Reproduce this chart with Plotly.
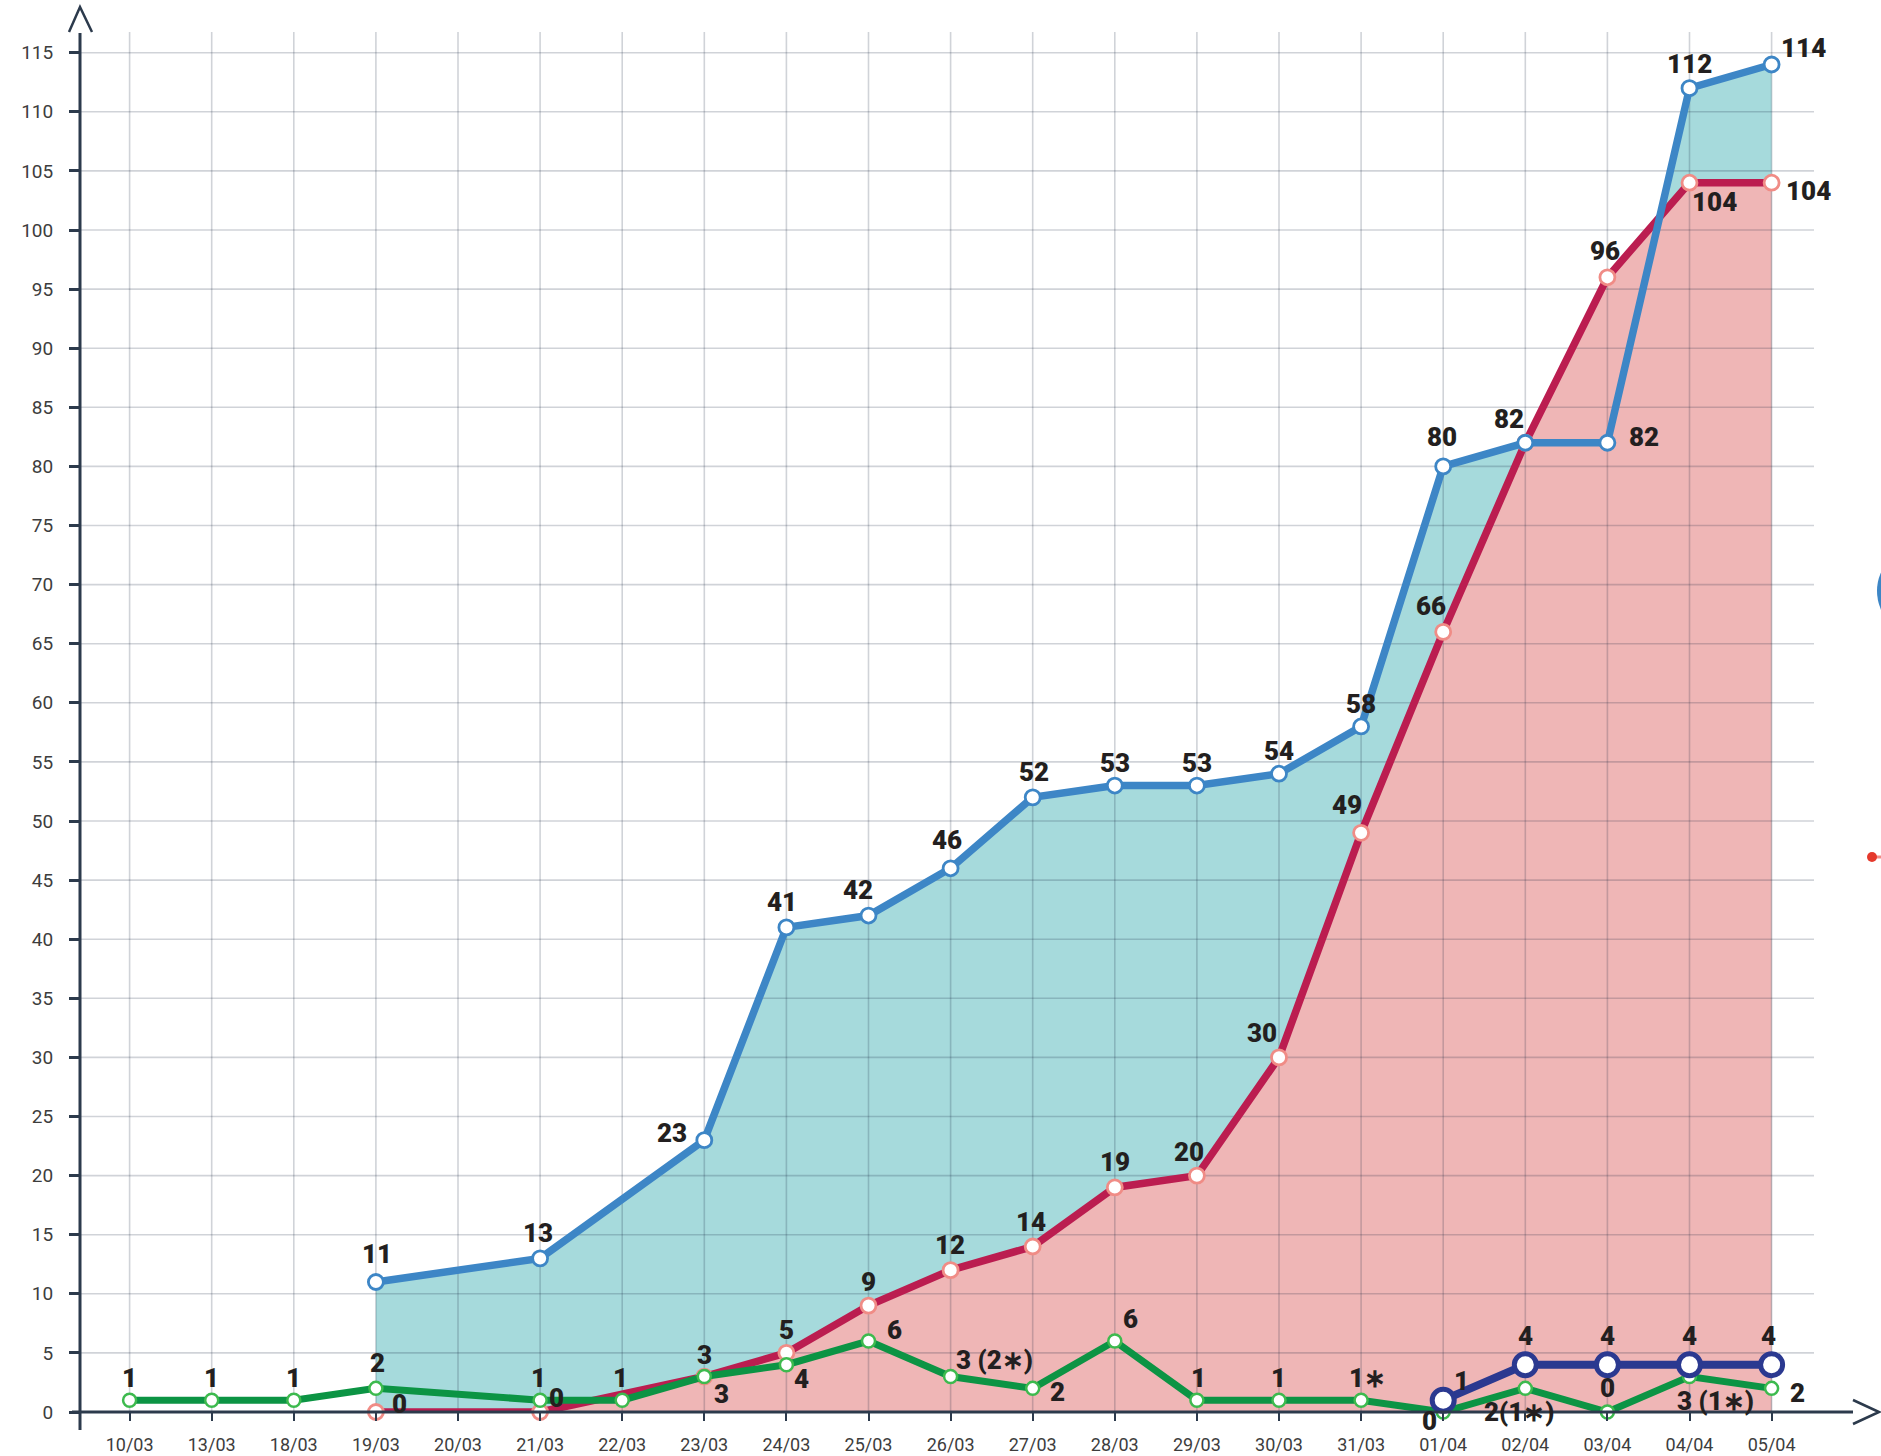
import plotly.graph_objects as go

# ---------------- data ----------------
DATES = ["10/03", "13/03", "18/03", "19/03", "20/03", "21/03", "22/03", "23/03", "24/03",
         "25/03", "26/03", "27/03", "28/03", "29/03", "30/03", "31/03", "01/04", "02/04",
         "03/04", "04/04", "05/04"]
Y_TICKS = [0, 5, 10, 15, 20, 25, 30, 35, 40, 45, 50, 55, 60, 65, 70, 75, 80, 85, 90, 95,
           100, 105, 110, 115]

BLUE_DATES = ["19/03", "21/03", "23/03", "24/03", "25/03", "26/03", "27/03", "28/03", "29/03",
              "30/03", "31/03", "01/04", "02/04", "03/04", "04/04", "05/04"]
BLUE_VALUES = [11, 13, 23, 41, 42, 46, 52, 53, 53, 54, 58, 80, 82, 82, 112, 114]
BLUE_LABELS = ["11", "13", "23", "41", "42", "46", "52", "53", "53", "54", "58", "80", "82",
               "82", "112", "114"]

RED_DATES = ["19/03", "21/03", "23/03", "24/03", "25/03", "26/03", "27/03", "28/03", "29/03",
             "30/03", "31/03", "01/04", "02/04", "03/04", "04/04", "05/04"]
RED_VALUES = [0, 0, 3, 5, 9, 12, 14, 19, 20, 30, 49, 66, 82, 96, 104, 104]
RED_LABELS = ["0", "0", "3", "5", "9", "12", "14", "19", "20", "30", "49", "66", "", "96",
              "104", "104"]

GREEN_DATES = ["10/03", "13/03", "18/03", "19/03", "21/03", "22/03", "23/03", "24/03", "25/03",
               "26/03", "27/03", "28/03", "29/03", "30/03", "31/03", "01/04", "02/04", "03/04",
               "04/04", "05/04"]
GREEN_VALUES = [1, 1, 1, 2, 1, 1, 3, 4, 6, 3, 2, 6, 1, 1, 1, 0, 2, 0, 3, 2]
GREEN_LABELS = ["1", "1", "1", "2", "1", "1", "3", "4", "6", "3 (2∗)", "2", "6", "1", "1",
                "1∗", "0", "2(1∗)", "0", "3 (1∗)", "2"]

NAVY_DATES = ["01/04", "02/04", "03/04", "04/04", "05/04"]
NAVY_VALUES = [1, 4, 4, 4, 4]
NAVY_LABELS = ["1", "4", "4", "4", "4"]

# ---------------- styles / layout geometry ----------------
W, H = 1881, 1456
ML, MR, MT, MB = 80, 2, 7, 44
PW, PH = W - ML - MR, H - MT - MB
X0_PX, DX_PX = 129.6, 82.1          # pixel of first category, spacing
PX_PER_UNIT = 11.82
X_RANGE = [(ML - X0_PX) / DX_PX, (W - MR - X0_PX) / DX_PX]
Y_RANGE = [0, PH / PX_PER_UNIT]
GRID_RIGHT = (1814 - X0_PX) / DX_PX
GRID_TOP = 116.75

AXIS_COLOR = "#2c3a4c"
GRID_COLOR = "rgba(20,35,60,0.20)"
BLUE, RED, GREEN, NAVY = "#3d86c6", "#bb1d50", "#0c9444", "#2b3990"
RED_MK, GREEN_MK = "#f08c86", "#3dba4e"
TEAL_FILL, PINK_FILL = "#a6dadc", "#efb6b6"
LABEL_FONT = dict(family="Roboto", size=26, color="#231f20", weight=900)

# label offsets in px (dx right, dy down)
BLUE_SHIFT = [(1, -28), (-2, -25), (-32, -7), (-4, -25), (-11, -26), (-4, -28), (1, -25),
              (0, -23), (0, -23), (0, -23), (0, -22), (-1, -29), (-16, -24), (37, -6),
              (0, -24), (32, -17)]
RED_SHIFT = [(24, -8), (16, -14), (0, -22), (0, -23), (0, -24), (-1, -25), (-2, -25),
             (0, -25), (-8, -24), (-17, -24), (-14, -28), (-12, -26), (0, 0), (-2, -26),
             (25, 19), (37, 8)]
GREEN_SHIFT = [(0, -22), (0, -22), (0, -22), (2, -25), (-2, -22), (-2, -22), (17, 17),
               (15, 14), (26, -11), (44, -17), (25, 4), (16, -22), (2, -22), (-1, -22),
               (6, -22), (-14, 9), (-6, 24), (0, -24), (26, 24), (26, 5)]
NAVY_SHIFT = [(18, -19), (0, -29), (0, -29), (0, -29), (-3, -29)]

idx = {d: i for i, d in enumerate(DATES)}


def xs(dates):
    return [idx[d] for d in dates]


fig = go.Figure()

# area fills
fig.add_trace(go.Scatter(x=xs(BLUE_DATES), y=BLUE_VALUES, mode="none", fill="tozeroy",
                         fillcolor=TEAL_FILL, hoverinfo="skip", showlegend=False))
fig.add_trace(go.Scatter(x=xs(RED_DATES), y=RED_VALUES, mode="none", fill="tozeroy",
                         fillcolor=PINK_FILL, hoverinfo="skip", showlegend=False))

# grid lines (drawn above fills, below the series lines)
gx, gy = [], []
for t in Y_TICKS[1:]:
    gx += [X_RANGE[0], GRID_RIGHT, None]
    gy += [t, t, None]
for i in range(len(DATES)):
    gx += [i, i, None]
    gy += [0, GRID_TOP, None]
fig.add_trace(go.Scatter(x=gx, y=gy, mode="lines", line=dict(color=GRID_COLOR, width=1.6),
                         hoverinfo="skip", showlegend=False))


def series(dates, values, color, mk_line, size, mk_width, lw=7.5):
    fig.add_trace(go.Scatter(
        x=xs(dates), y=values, mode="lines+markers", cliponaxis=False,
        line=dict(color=color, width=lw),
        marker=dict(size=size, color="white", line=dict(color=mk_line, width=mk_width)),
        hoverinfo="skip", showlegend=False))


series(RED_DATES, RED_VALUES, RED, RED_MK, 15, 2.8)
series(BLUE_DATES, BLUE_VALUES, BLUE, BLUE, 15, 2.8)
series(GREEN_DATES, GREEN_VALUES, GREEN, GREEN_MK, 13, 2.5, lw=7)
series(NAVY_DATES, NAVY_VALUES, NAVY, NAVY, 22, 5, lw=8)

annotations = []


def labels(dates, values, texts, shifts):
    for d, v, t, (dx, dy) in zip(dates, values, texts, shifts):
        if not t:
            continue
        annotations.append(dict(x=idx[d], y=v, text=t, showarrow=False, xshift=dx, yshift=-dy,
                                xanchor="center", yanchor="middle", font=LABEL_FONT))


labels(BLUE_DATES, BLUE_VALUES, BLUE_LABELS, BLUE_SHIFT)
labels(RED_DATES, RED_VALUES, RED_LABELS, RED_SHIFT)
labels(GREEN_DATES, GREEN_VALUES, GREEN_LABELS, GREEN_SHIFT)
labels(NAVY_DATES, NAVY_VALUES, NAVY_LABELS, NAVY_SHIFT)


def px(x, y):
    return (x - ML) / PW, (H - MB - y) / PH


shapes = []


def pline(x0, y0, x1, y1, color=AXIS_COLOR, width=3):
    a, b = px(x0, y0)
    c, d = px(x1, y1)
    shapes.append(dict(type="line", xref="paper", yref="paper", x0=a, y0=b, x1=c, y1=d,
                       line=dict(color=color, width=width), layer="above"))


def ppath(points, color=AXIS_COLOR, width=2.5):
    p = []
    for k, (x, y) in enumerate(points):
        a, b = px(x, y)
        p.append(("M" if k == 0 else "L") + f"{a},{b}")
    shapes.append(dict(type="path", xref="paper", yref="paper", path=" ".join(p),
                       line=dict(color=color, width=width), layer="above"))


# axes with arrows
pline(80, 1430, 80, 33)
pline(72, 1412, 1853, 1412)
ppath([(69, 32), (80, 7), (92, 32)])
ppath([(1853, 1400), (1879, 1412), (1853, 1424)])

# cropped legend remnants at right edge
a0, b0 = px(1877, 546)
a1, b1 = px(1967, 636)
shapes.append(dict(type="circle", xref="paper", yref="paper", x0=a0, y0=b1, x1=a1, y1=b0,
                    fillcolor=BLUE, line=dict(width=0), layer="above"))
pline(1874, 857, 1881, 857, color=RED_MK, width=3)
a0, b0 = px(1867, 852)
a1, b1 = px(1877, 862)
shapes.append(dict(type="circle", xref="paper", yref="paper", x0=a0, y0=b1, x1=a1, y1=b0,
                    fillcolor="#e5392c", line=dict(width=0), layer="above"))

fig.update_layout(
    width=W, height=H,
    margin=dict(l=ML, r=MR, t=MT, b=MB, pad=0),
    plot_bgcolor="white", paper_bgcolor="white",
    showlegend=False,
    annotations=annotations,
    shapes=shapes,
    xaxis=dict(range=X_RANGE, tickvals=list(range(len(DATES))), ticktext=DATES,
               ticks="outside", ticklen=8, tickwidth=2, tickcolor=AXIS_COLOR,
               showgrid=False, zeroline=False, showline=False, ticklabelstandoff=8,
               tickfont=dict(family="Roboto", size=18, color="#3d3d3d")),
    yaxis=dict(range=Y_RANGE, tickvals=Y_TICKS, ticks="outside", ticklen=10, tickwidth=3,
               tickcolor=AXIS_COLOR, showgrid=False, zeroline=False, showline=False,
               ticklabelstandoff=12,
               tickfont=dict(family="Roboto", size=19, color="#3d3d3d")),
)

fig.write_html("out.html", config={"displayModeBar": False},
               post_script="document.body.style.margin='0';document.body.style.overflow='hidden';")
